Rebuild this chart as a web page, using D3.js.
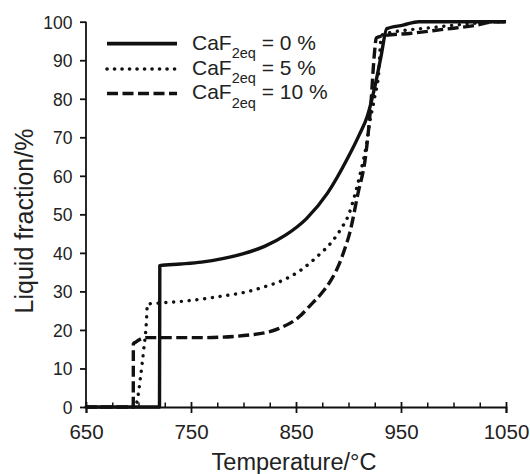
<!DOCTYPE html>
<html>
<head>
<meta charset="utf-8">
<script src="https://cdn.jsdelivr.net/npm/d3@7"></script>
<style>
  html, body { margin: 0; padding: 0; background: #fff; }
  svg { display: block; font-family: "Liberation Sans", Arial, Helvetica, sans-serif; }
</style>
</head>
<body>
<svg id="chart" width="530" height="474"></svg>
<script>
// ---- data ----
const xMajorTicks = [650, 750, 850, 950, 1050];
const xMinorTicks = [675, 700, 725, 775, 800, 825, 875, 900, 925, 975, 1000, 1025];
const yTicks = [0, 10, 20, 30, 40, 50, 60, 70, 80, 90, 100];

const seriesLabels = ["0 %", "5 %", "10 %"];

// CaF2eq = 0 %
const temp0 = [650, 720, 720.3, 740, 760, 780, 800, 820, 840, 860, 880, 900, 910, 918, 925, 931, 936.5, 952, 967, 1050];
const frac0 = [0, 0, 36.7, 37.1, 37.6, 38.5, 39.8, 41.7, 44.6, 48.9, 55.5, 65, 70.5, 75.5, 83, 91, 98.2, 99.1, 100, 100];

// CaF2eq = 5 %
const temp5 = [650, 697, 699, 702, 705, 707.5, 708.5, 720, 740, 760, 780, 800, 820, 840, 856, 865, 874, 884, 893, 900, 906, 912, 917, 920, 925, 929, 930.5, 933, 940, 980, 1020, 1040, 1050];
const frac5 = [0, 0, 2, 8, 15, 22, 26.7, 27, 27.4, 28, 28.8, 29.7, 31.2, 33.2, 35.8, 37.8, 40, 42.8, 46.3, 49.8, 55, 61.5, 68, 73.5, 80.5, 87.5, 94.5, 96.8, 97.2, 98.5, 99.6, 100, 100];

// CaF2eq = 10 %
const temp10 = [650, 695, 695.1, 697, 707, 712, 760, 806, 834, 853, 863, 874, 883.5, 891, 896, 901, 908.7, 916.7, 921.4, 924.6, 926.5, 932, 960, 990, 1020, 1040, 1050];
const frac10 = [0, 0, 16.4, 16.8, 18, 18, 18, 18.7, 20.4, 23.4, 26.2, 29.4, 33, 37, 40.7, 45, 55, 66, 79, 91.5, 95.8, 96.3, 97, 98, 99, 100, 100];

// ---- chart ----
const svg = d3.select("#chart");
const x = d3.scaleLinear().domain([650, 1050]).range([86, 506]);
const y = d3.scaleLinear().domain([0, 100]).range([407, 21.7]);

const styles = [
  { width: 3.4, dash: null, cap: "butt" },
  { width: 3.4, dash: "0.1,7.7", cap: "round" },
  { width: 3.4, dash: "11,4.5", cap: "butt" }
];
const series = [
  { t: temp0, v: frac0 },
  { t: temp5, v: frac5 },
  { t: temp10, v: frac10 }
];

// Axes
const xAxis = svg.append("g").attr("transform", `translate(0,${y(0)})`)
  .call(d3.axisBottom(x).tickValues(xMajorTicks).tickSize(6).tickFormat(d3.format("d")));
xAxis.select(".domain").attr("stroke", "#111").attr("stroke-width", 1.8);
xAxis.selectAll(".tick line").attr("stroke", "#111").attr("stroke-width", 1.8).attr("y1", -5).attr("y2", 6);
xAxis.selectAll(".tick text").attr("y", 32).attr("dy", 0)
  .attr("font-size", 20.5).attr("fill", "#222").attr("font-family", "Liberation Sans, Arial, sans-serif");

const xMinor = svg.append("g").attr("transform", `translate(0,${y(0)})`)
  .call(d3.axisBottom(x).tickValues(xMinorTicks).tickSize(-4.5).tickFormat(""));
xMinor.select(".domain").remove();
xMinor.selectAll(".tick line").attr("stroke", "#111").attr("stroke-width", 1.5).attr("y1", 1);

const yAxis = svg.append("g").attr("transform", `translate(${x(650)},0)`)
  .call(d3.axisLeft(y).tickValues(yTicks).tickSize(6).tickFormat(d3.format("d")));
yAxis.select(".domain").attr("stroke", "#111").attr("stroke-width", 1.8).attr("d", `M0,${y(100)}V${y(0)}`);
yAxis.selectAll(".tick line").attr("stroke", "#111").attr("stroke-width", 1.8);
yAxis.selectAll(".tick text").attr("x", -13.5).attr("dy", "0.36em")
  .attr("font-size", 17.5).attr("fill", "#222").attr("font-family", "Liberation Sans, Arial, sans-serif");

// Axis titles
svg.append("text").attr("x", 294).attr("y", 470).attr("text-anchor", "middle")
  .attr("font-size", 23.5).attr("fill", "#222").text("Temperature/°C");
svg.append("text").attr("transform", `translate(33,221) rotate(-90)`).attr("text-anchor", "middle")
  .attr("font-size", 25).attr("fill", "#222").text("Liquid fraction/%");

// Lines
const line = d3.line().x(d => x(d[0])).y(d => y(d[1])).curve(d3.curveMonotoneX);
series.forEach((s, i) => {
  const pts = s.t.map((t, j) => [t, s.v[j]]);
  svg.append("path").datum(pts)
    .attr("d", line)
    .attr("fill", "none")
    .attr("stroke", "#111")
    .attr("stroke-width", styles[i].width)
    .attr("stroke-linejoin", "round")
    .attr("stroke-linecap", styles[i].cap)
    .attr("stroke-dasharray", styles[i].dash);
});

// Legend
const legendRowsY = [43.7, 69, 93.5];
seriesLabels.forEach((lab, i) => {
  const ly = legendRowsY[i];
  svg.append("line").attr("x1", 107).attr("x2", 177).attr("y1", ly).attr("y2", ly)
    .attr("stroke", "#111").attr("stroke-width", i === 0 ? 3.8 : 3.6)
    .attr("stroke-linecap", styles[i].cap)
    .attr("stroke-dasharray", i === 1 ? "0.1,7.4" : styles[i].dash);
  const t = svg.append("text").attr("x", 192).attr("y", ly + 5.8)
    .attr("font-size", 21).attr("fill", "#222");
  t.append("tspan").text("CaF");
  t.append("tspan").attr("font-size", 14.5).attr("dy", 8.5).text("2eq");
  t.append("tspan").attr("dy", -8.5).text(" = " + lab);
});
</script>
</body>
</html>
